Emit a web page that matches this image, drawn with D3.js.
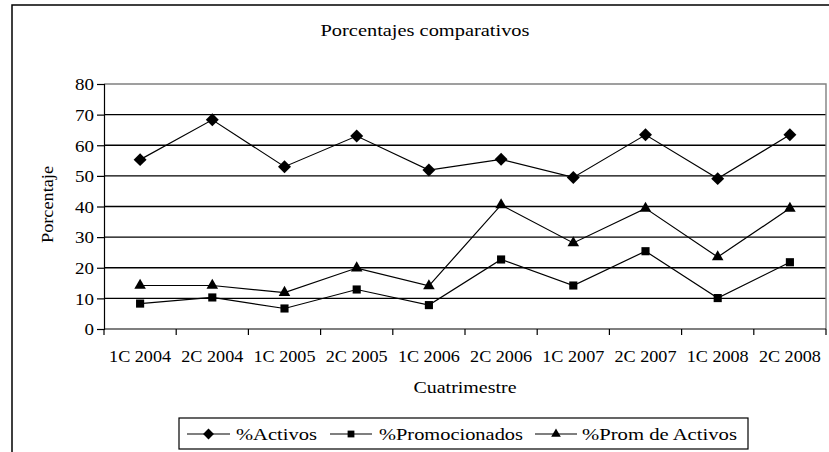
<!DOCTYPE html>
<html>
<head>
<meta charset="utf-8">
<script src="https://cdn.jsdelivr.net/npm/d3@7"></script>
<style>
  html, body { margin: 0; padding: 0; background: #fff; }
  svg { display: block; }
</style>
</head>
<body>
<svg id="chart" width="829" height="452"></svg>
<script>
const title = "Porcentajes comparativos";
const xTitle = "Cuatrimestre";
const yTitle = "Porcentaje";
const categories = ["1C 2004","2C 2004","1C 2005","2C 2005","1C 2006","2C 2006","1C 2007","2C 2007","1C 2008","2C 2008"];
const activos       = [55.3, 68.3, 53.0, 63.0, 51.9, 55.4, 49.5, 63.4, 49.1, 63.4];
const promocionados = [8.3, 10.3, 6.7, 12.9, 7.8, 22.7, 14.2, 25.4, 10.1, 21.8];
const promActivos   = [14.2, 14.2, 11.9, 19.9, 14.1, 40.5, 28.1, 39.4, 23.5, 39.4];
const seriesNames = ["%Activos", "%Promocionados", "%Prom de Activos"];
const yTicks = [0, 10, 20, 30, 40, 50, 60, 70, 80];

const FONT = "'Liberation Serif', 'DejaVu Serif', serif";
const FS = 17;

const series = [
  { name: seriesNames[0], values: activos, symbol: d3.symbolSquare, size: 84, rot: 45 },
  { name: seriesNames[1], values: promocionados, symbol: d3.symbolSquare, size: 66, rot: 0 },
  { name: seriesNames[2], values: promActivos, symbol: d3.symbolTriangle, size: 58, rot: 0 }
];

const svg = d3.select("#chart");
const L = 104, R = 826, T = 84, B = 329;

// outer frame
svg.append("rect").attr("x", 12).attr("y", 5).attr("width", 840).attr("height", 470)
  .attr("fill", "none").attr("stroke", "#000").attr("stroke-width", 1.5);

const x = d3.scaleBand().domain(categories).range([L, R]).padding(0);
const y = d3.scaleLinear().domain([0, 80]).range([B, T]);

function txt(g, str, px, py, len, anchor, size) {
  return g.append("text").attr("x", px).attr("y", py)
    .attr("font-family", FONT)
    .attr("font-size", size || FS)
    .attr("fill", "#000")
    .attr("text-anchor", anchor || "middle")
    .attr("textLength", len).attr("lengthAdjust", "spacingAndGlyphs")
    .text(str);
}

// title
txt(svg, title, 425, 36, 209, "middle");

// gridlines
svg.append("g").selectAll("line").data(yTicks.filter(d => d > 0 && d < 80)).join("line")
  .attr("x1", L).attr("x2", R).attr("y1", d => y(d)).attr("y2", d => y(d))
  .attr("stroke", "#000").attr("stroke-width", 1.3);

// plot border top/right (gray)
svg.append("path").attr("d", `M${L},${y(80)}H${R}V${B}`).attr("fill", "none")
  .attr("stroke", "#808080").attr("stroke-width", 1.4);

// y axis
const yAxis = d3.axisLeft(y).tickValues(yTicks).tickSize(7).tickFormat(d3.format("d"));
const gy = svg.append("g").attr("transform", `translate(${L},0)`).call(yAxis)
  .attr("font-family", FONT);
gy.select(".domain").attr("stroke", "#000").attr("stroke-width", 1.2);
gy.selectAll(".tick line").attr("stroke", "#000").attr("stroke-width", 1.2);
gy.selectAll(".tick text").attr("font-size", FS).attr("x", -10).attr("dy", "0.34em")
  .attr("font-family", FONT).attr("fill", "#000")
  .attr("textLength", d => d >= 10 ? 19 : 9.5).attr("lengthAdjust", "spacingAndGlyphs");

// x axis: ticks at band edges
const gx = svg.append("g");
gx.append("line").attr("x1", L).attr("x2", R).attr("y1", B).attr("y2", B)
  .attr("stroke", "#000").attr("stroke-width", 1.2);
const edges = categories.map(c => x(c)).concat([x(categories[categories.length - 1]) + x.bandwidth()]);
gx.selectAll("line.tk").data(edges).join("line").attr("class", "tk")
  .attr("x1", d => d).attr("x2", d => d).attr("y1", B).attr("y2", B + 6)
  .attr("stroke", "#000").attr("stroke-width", 1.2);
categories.forEach(c => txt(gx, c, x(c) + x.bandwidth() / 2, 362, 62, "middle"));

// axis titles
txt(svg, xTitle, 465, 393, 103, "middle");
svg.append("text").attr("transform", "translate(53,204.5) rotate(-90)")
  .attr("font-family", FONT).attr("fill", "#000")
  .attr("font-size", FS).attr("text-anchor", "middle")
  .attr("textLength", 77).attr("lengthAdjust", "spacingAndGlyphs").text(yTitle);

// series
const line = d3.line().x((d, i) => x(categories[i]) + x.bandwidth() / 2).y(d => y(d));
series.forEach(s => {
  const g = svg.append("g");
  g.append("path").attr("d", line(s.values)).attr("fill", "none")
    .attr("stroke", "#000").attr("stroke-width", 1.2);
  g.selectAll("path.m").data(s.values).join("path").attr("class", "m")
    .attr("d", d3.symbol().type(s.symbol).size(s.size))
    .attr("transform", (d, i) => `translate(${x(categories[i]) + x.bandwidth() / 2},${y(d)}) rotate(${s.rot})`)
    .attr("fill", "#000");
});

// legend
const lg = svg.append("g");
lg.append("rect").attr("x", 179).attr("y", 418).attr("width", 569).attr("height", 31)
  .attr("fill", "#fff").attr("stroke", "#000").attr("stroke-width", 1.2);
const legendItems = [
  { x0: 187, x1: 230, tx: 236, tl: 81 },
  { x0: 330, x1: 372, tx: 379, tl: 144 },
  { x0: 535, x1: 577, tx: 582, tl: 155 }
];
series.forEach((s, i) => {
  const it = legendItems[i];
  const cy = 434;
  lg.append("line").attr("x1", it.x0).attr("x2", it.x1).attr("y1", cy).attr("y2", cy)
    .attr("stroke", "#000").attr("stroke-width", 1.2);
  lg.append("path").attr("d", d3.symbol().type(s.symbol).size(s.size * 0.7))
    .attr("transform", `translate(${(it.x0 + it.x1) / 2},${cy}) rotate(${s.rot})`).attr("fill", "#000");
  txt(lg, s.name, it.tx, 440, it.tl, "start");
});
</script>
</body>
</html>
